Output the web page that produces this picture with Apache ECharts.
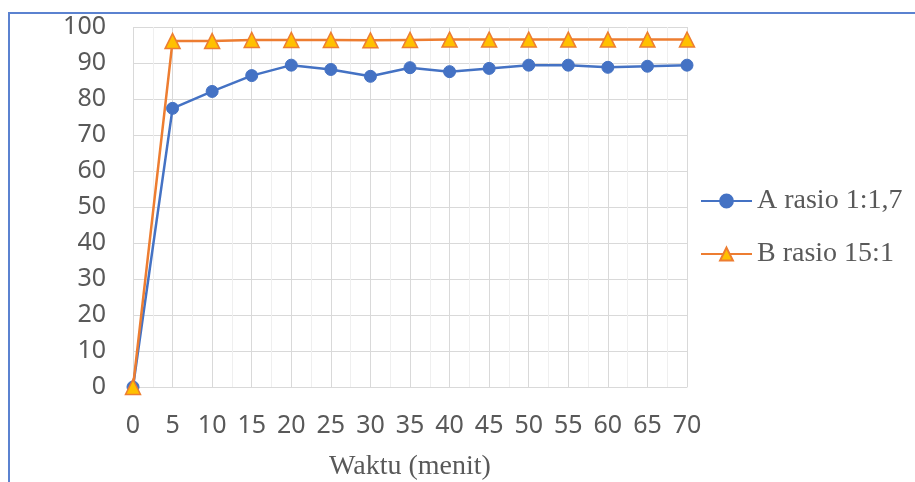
<!DOCTYPE html>
<html>
<head>
<meta charset="utf-8">
<script src="https://cdn.jsdelivr.net/npm/echarts@6/dist/echarts.min.js"></script>
<style>
html,body{margin:0;padding:0;background:#fff;}
#chart{width:915px;height:482px;}
</style>
</head>
<body>
<div id="chart"></div>
<script>
const waktu = [0, 5, 10, 15, 20, 25, 30, 35, 40, 45, 50, 55, 60, 65, 70];
const seriesAName = 'A rasio 1:1,7';
const seriesA = [0, 77.4, 82.1, 86.5, 89.4, 88.2, 86.3, 88.7, 87.6, 88.5, 89.4, 89.4, 88.8, 89.1, 89.4];
const seriesBName = 'B rasio 15:1';
const seriesB = [0, 96.1, 96.1, 96.4, 96.4, 96.4, 96.3, 96.4, 96.5, 96.5, 96.5, 96.5, 96.5, 96.5, 96.5];
const xTitle = 'Waktu (menit)';

const chart = echarts.init(document.getElementById('chart'), null, {renderer: 'canvas'});
const pairs = (xs, ys) => xs.map((x, i) => [x, ys[i]]);

chart.setOption({
  animation: false,
  backgroundColor: '#fff',
  graphic: [{
    type: 'rect',
    x: 9, y: 13,
    shape: {x: 0, y: 0, width: 1000, height: 1000},
    style: {fill: 'none', stroke: '#5B82D0', lineWidth: 2},
    silent: true
  }],
  grid: {left: 133, right: 228, top: 27, bottom: 95, containLabel: false, outerBoundsMode: 'none'},
  legend: {
    orient: 'vertical',
    left: 695, top: 182,
    itemWidth: 51, itemHeight: 16, itemGap: 25,
    textStyle: {fontFamily: 'Liberation Serif', fontSize: 28, color: '#595959'},
    data: [seriesAName, seriesBName]
  },
  xAxis: {
    type: 'value', min: 0, max: 70, interval: 5,
    name: xTitle, nameLocation: 'middle', nameGap: 66,
    nameTextStyle: {fontFamily: 'Liberation Serif', fontSize: 28, color: '#595959'},
    axisLine: {show: true, lineStyle: {color: '#D9D9D9', width: 1}},
    axisTick: {show: false},
    axisLabel: {fontFamily: 'Noto Sans', fontSize: 25, color: '#595959', margin: 26},
    splitLine: {show: true, lineStyle: {color: '#D9D9D9', width: 1}},
    minorSplitLine: {show: true, lineStyle: {color: '#EFEFEF', width: 1}},
    minorTick: {show: false, splitNumber: 2}
  },
  yAxis: {
    type: 'value', min: 0, max: 100, interval: 10,
    axisLine: {show: false},
    axisTick: {show: false},
    axisLabel: {fontFamily: 'Noto Sans', fontSize: 25, color: '#595959', margin: 27},
    splitLine: {show: true, lineStyle: {color: '#D9D9D9', width: 1}}
  },
  series: [
    {
      name: seriesAName, type: 'line',
      data: pairs(waktu, seriesA),
      symbol: 'circle', symbolSize: 12,
      lineStyle: {color: '#4472C4', width: 2.5},
      itemStyle: {color: '#4472C4', borderColor: '#4472C4', borderWidth: 1}
    },
    {
      name: seriesBName, type: 'line',
      data: pairs(waktu, seriesB),
      symbol: 'triangle', symbolSize: 15,
      lineStyle: {color: '#ED7D31', width: 2.5},
      itemStyle: {color: '#FFC000', borderColor: '#ED7D31', borderWidth: 1.5}
    }
  ]
});
</script>
</body>
</html>
